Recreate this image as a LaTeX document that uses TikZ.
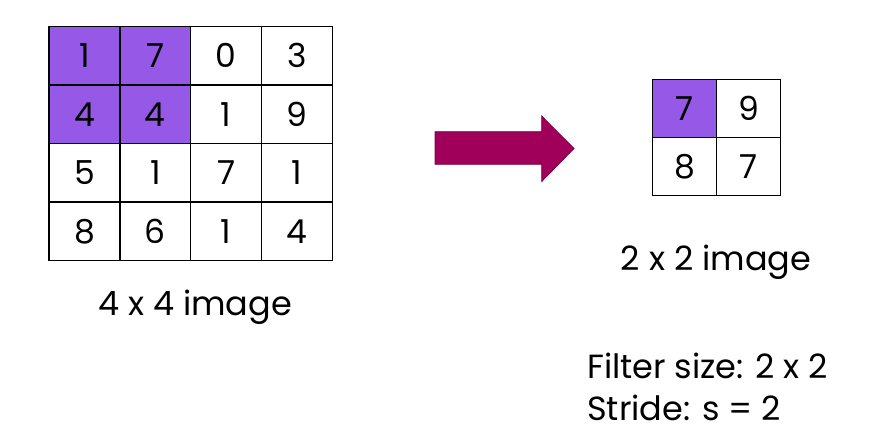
\documentclass[tikz,border=0pt]{standalone}
\usepackage{fontspec}
\setmainfont{Poppins}
\definecolor{cellpurple}{RGB}{150,88,230}
\definecolor{arrowred}{RGB}{160,0,90}
\definecolor{arrowedge}{RGB}{120,0,65}
\tikzset{
  gridcell/.style={draw=black, line width=1.3pt, inner sep=0pt, font=\fontsize{33}{36}\selectfont},
  caption/.style={font=\fontsize{33.5}{38}\selectfont, inner sep=0pt}
}
\begin{document}
\begin{tikzpicture}[x=1pt,y=-1pt]
\useasboundingbox (0,0) rectangle (872,445);
% 4x4 grid
\def\cw{70.9}\def\ch{58.5}
\foreach \r/\row in {0/{1,7,0,3},1/{4,4,1,9},2/{5,1,7,1},3/{8,6,1,4}} {
  \foreach \v [count=\c from 0] in \row {
    \pgfmathsetmacro{\fillc}{(\r<2 && \c<2) ? 1 : 0}
    \ifdim\fillc pt>0.5pt
      \node[gridcell, fill=cellpurple, minimum width=\cw pt, minimum height=\ch pt]
        (a\r\c) at ({49+(\c+0.5)*\cw},{26.5+(\r+0.5)*\ch}) {\v};
    \else
      \node[gridcell, fill=white, minimum width=\cw pt, minimum height=\ch pt]
        (a\r\c) at ({49+(\c+0.5)*\cw},{26.5+(\r+0.5)*\ch}) {\v};
    \fi
  }
}
% 2x2 grid
\node[gridcell, fill=cellpurple, minimum width=64pt, minimum height=58.3pt] (b00) at (684.7,108.3) {7};
\node[gridcell, fill=white, minimum width=64pt, minimum height=58.3pt] (b01) at (748.7,108.3) {9};
\node[gridcell, fill=white, minimum width=64pt, minimum height=58.3pt] (b10) at (684.7,166.6) {8};
\node[gridcell, fill=white, minimum width=64pt, minimum height=58.3pt] (b11) at (748.7,166.6) {7};
% arrow
\filldraw[fill=arrowred, draw=arrowedge, line width=0.8pt, line join=miter]
  (435,131.7) -- (541.7,131.7) -- (541.7,116) -- (574,148.5) -- (541.7,181.5)
  -- (541.7,164.3) -- (435,164.3) -- cycle;
% captions
\node[caption] (cap1) at (195,307) {4 x 4 image};
\node[caption] (cap2) at (716,262) {2 x 2 image};
\node[caption, anchor=west] (f1) at (587,366) {Filter size: 2 x 2};
\node[caption, anchor=west] (f2) at (587,408) {Stride: s = 2};
\end{tikzpicture}
\end{document}
